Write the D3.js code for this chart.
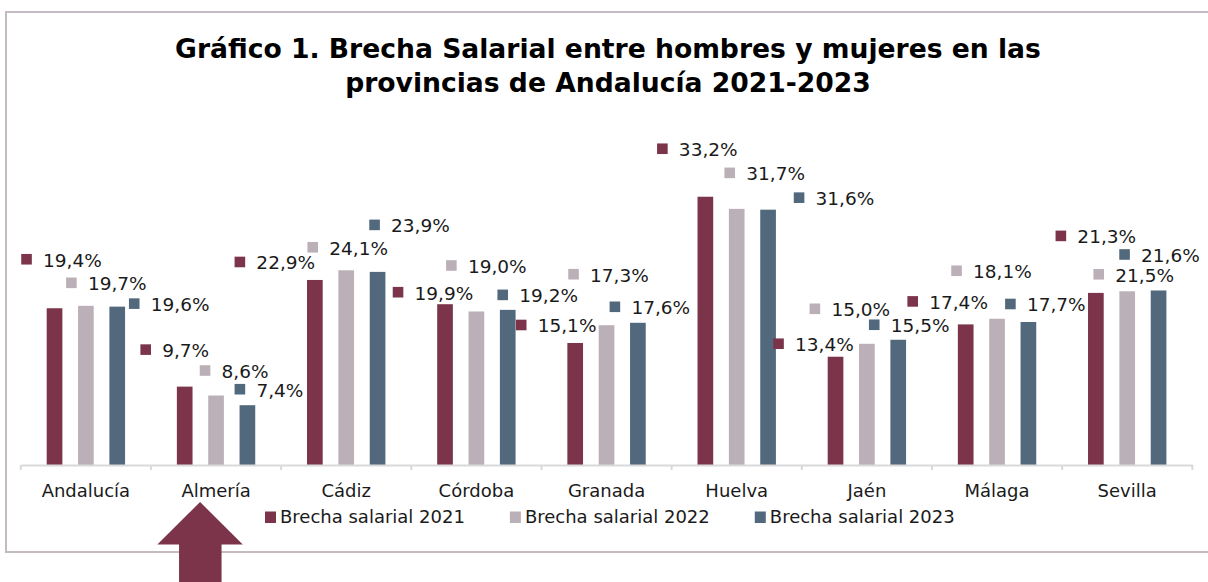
<!DOCTYPE html>
<html>
<head>
<meta charset="utf-8">
<script src="https://cdn.jsdelivr.net/npm/d3@7"></script>
<style>
  body { margin: 0; background: #fff; }
  svg { display: block; font-family: Verdana, "DejaVu Sans", sans-serif; }
</style>
</head>
<body>
<svg></svg>
<script>
// data
const provincias = ['Andalucía', 'Almería', 'Cádiz', 'Córdoba', 'Granada', 'Huelva', 'Jaén', 'Málaga', 'Sevilla'];
const years = ['2021', '2022', '2023'];
const brecha2021 = [19.4, 9.7, 22.9, 19.9, 15.1, 33.2, 13.4, 17.4, 21.3];
const brecha2022 = [19.7, 8.6, 24.1, 19.0, 17.3, 31.7, 15.0, 18.1, 21.5];
const brecha2023 = [19.6, 7.4, 23.9, 19.2, 17.6, 31.6, 15.5, 17.7, 21.6];
const seriesNames = ['Brecha salarial 2021', 'Brecha salarial 2022', 'Brecha salarial 2023'];

// label nudges (marker centre relative to bar centre / bar top), like the manual placement in the original
const nudge2021 = [[-28,-49],[-39,-37],[-75,-18],[-47,-12],[-54,-18],[-43,-48],[-57,-13],[-53,-23],[-35,-57]];
const nudge2022 = [[-14.5,-23],[-11,-25],[-33.5,-23],[-25,-46],[-33,-51],[-7,-36],[-52,-35],[-40.5,-48],[-28.5,-17]];
const nudge2023 = [[17,-3],[-7.5,-16],[-3,-47],[-5,-15],[-23,-16],[31,-12],[-24,-15],[-18,-18],[-34,-36]];

const colors = ['#7b344a', '#bcb0b8', '#52687d'];
const size = {w: 1208, h: 582};

const svg = d3.select('svg').attr('width', size.w).attr('height', size.h);

// outer frame
svg.append('rect')
    .attr('x', 6).attr('y', 12)
    .attr('width', 1220).attr('height', 540)
    .attr('fill', 'none')
    .attr('stroke', '#c4bac1')
    .attr('stroke-width', 2);

// title
const title = svg.append('text')
    .attr('text-anchor', 'middle')
    .attr('font-weight', 'bold')
    .attr('font-size', 26.6)
    .attr('fill', '#000');
title.append('tspan').attr('x', 608).attr('y', 58)
    .text('Gráfico 1. Brecha Salarial entre hombres y mujeres en las');
title.append('tspan').attr('x', 608).attr('y', 92)
    .text('provincias de Andalucía 2021-2023');

// scales
const x0 = d3.scaleBand()
    .domain(provincias)
    .range([20.8, 1192.3]);

const x1 = d3.scaleBand()
    .domain(years)
    .range([0, x0.bandwidth()])
    .paddingInner(0.5)
    .paddingOuter(0.826);

const y = d3.scaleLinear()
    .domain([0, 35])
    .range([465, 465 - 35 * 8.08]);

const table = provincias.map((p, i) => ({
    provincia: p,
    values: [brecha2021[i], brecha2022[i], brecha2023[i]],
    nudges: [nudge2021[i], nudge2022[i], nudge2023[i]]
}));

// bars
const groups = svg.append('g').classed('bars', true)
    .selectAll('g')
    .data(table)
    .join('g')
    .attr('transform', d => 'translate(' + x0(d.provincia) + ',0)');

groups.selectAll('rect')
    .data(d => d.values.map((v, k) => ({v: v, k: k})))
    .join('rect')
    .attr('x', d => x1(years[d.k]))
    .attr('width', x1.bandwidth())
    .attr('y', d => y(d.v))
    .attr('height', d => y(0) - y(d.v))
    .attr('fill', d => colors[d.k]);

// x axis
const axisG = svg.append('g')
    .attr('transform', 'translate(0,' + y(0) + ')');
const xAxis = d3.axisBottom(x0).tickSize(0).tickPadding(0).tickSizeOuter(0);
axisG.call(xAxis);
axisG.select('.domain').attr('stroke', '#d9d9d9').attr('stroke-width', 2);
axisG.selectAll('.tick text')
    .attr('y', 31.7)
    .attr('dy', null)
    .attr('font-size', 18)
    .attr('font-family', 'Verdana, "DejaVu Sans", sans-serif')
    .attr('fill', '#1a1a1a');
// tick marks on category boundaries
const bounds = provincias.map(p => x0(p)).concat([x0.range()[1]]);
axisG.selectAll('line.sep')
    .data(bounds)
    .join('line')
    .classed('sep', true)
    .attr('x1', d => d).attr('x2', d => d)
    .attr('y1', 0).attr('y2', 5)
    .attr('stroke', '#d9d9d9')
    .attr('stroke-width', 2);

// data labels with legend keys
const labels = groups.selectAll('g.lab')
    .data(d => d.values.map((v, k) => ({v: v, k: k, n: d.nudges[k]})))
    .join('g')
    .classed('lab', true)
    .attr('transform', d => {
        let cx = x1(years[d.k]) + x1.bandwidth() / 2 + d.n[0];
        let cy = y(d.v) + d.n[1];
        return 'translate(' + cx + ',' + cy + ')';
    });

labels.append('rect')
    .attr('x', -5.3).attr('y', -5.3)
    .attr('width', 10.6).attr('height', 10.6)
    .attr('fill', d => colors[d.k]);

labels.append('text')
    .attr('x', 16.5)
    .attr('y', 7.5)
    .attr('font-size', 18.5)
    .attr('fill', '#1a1a1a')
    .text(d => d3.format('.1f')(d.v).replace('.', ',') + '%');

// legend
const legendG = svg.append('g').attr('transform', 'translate(0,523)');
let lx = 265;
seriesNames.forEach((name, k) => {
    legendG.append('rect')
        .attr('x', lx).attr('y', -11.5)
        .attr('width', 11).attr('height', 11.5)
        .attr('fill', colors[k]);
    let t = legendG.append('text')
        .attr('x', lx + 15)
        .attr('y', 0)
        .attr('font-size', 18)
        .attr('fill', '#1a1a1a')
        .text(name);
    lx = lx + 15 + t.node().getComputedTextLength() + 45;
});

// arrow pointing at Almería
const ax = x0('Almería') + x0.bandwidth() / 2 - 16;
svg.append('path')
    .attr('d', d3.line()([
        [ax, 502], [ax + 42.7, 544.5], [ax + 21.5, 544.5], [ax + 21.5, 590],
        [ax - 21, 590], [ax - 21, 544.5], [ax - 42.7, 544.5]
    ]) + 'Z')
    .attr('fill', '#7b344a');
</script>
</body>
</html>
